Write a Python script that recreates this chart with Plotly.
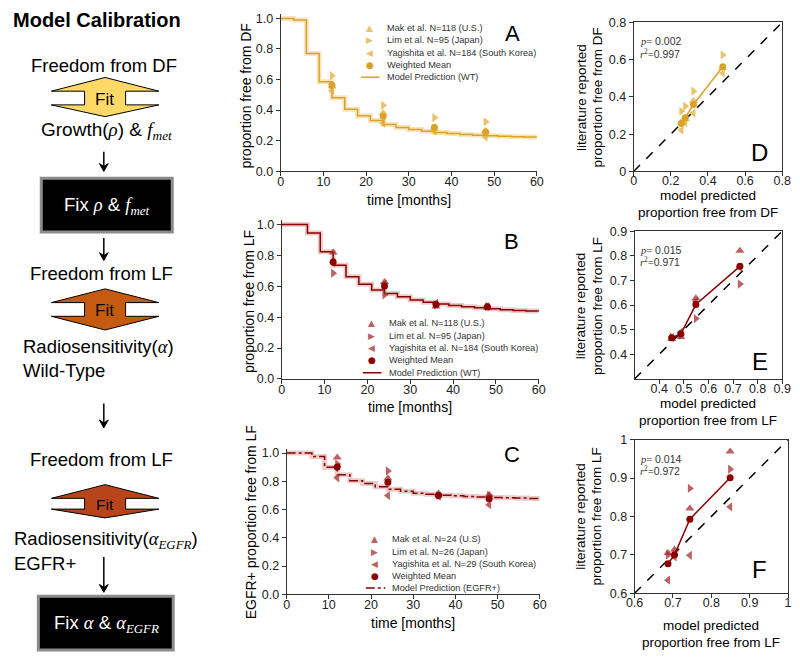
import plotly.graph_objects as go

W, H = 800, 660

# ---------------- data ----------------
t_model = [0, 3, 6, 9, 12, 15, 18, 21, 24, 27, 30, 33, 36, 39, 42, 45, 48, 51, 54, 57, 60]
model_DF_WT = [1.0, 0.99, 0.77, 0.585, 0.48, 0.405, 0.362, 0.331, 0.306, 0.286, 0.272,
               0.262, 0.253, 0.246, 0.240, 0.235, 0.231, 0.228, 0.225, 0.223, 0.222]
model_LF_WT = [1.0, 1.0, 0.945, 0.824, 0.736, 0.662, 0.613, 0.577, 0.554, 0.533, 0.512,
               0.497, 0.485, 0.476, 0.468, 0.461, 0.455, 0.449, 0.444, 0.440, 0.437]
model_LF_EGFR = [1.0, 1.0, 0.975, 0.90, 0.847, 0.804, 0.785, 0.762, 0.744, 0.730, 0.716,
                 0.709, 0.702, 0.697, 0.692, 0.688, 0.685, 0.683, 0.681, 0.679, 0.678]

t_obs = [12, 24, 36, 48]

# Panel A / D : freedom from distant failure (wild type)
DF_mak = [0.555, 0.38, 0.28, 0.265]
DF_lim = [0.625, 0.431, 0.350, 0.323]
DF_yag = [0.527, 0.313, 0.262, 0.222]
DF_mean = [0.562, 0.359, 0.288, 0.257]
DF_pred = [0.48, 0.322, 0.278, 0.257]

# Panel B / E : freedom from local failure (wild type)
LF_mak = [0.82, 0.628, 0.47, 0.462]
LF_lim = [0.685, 0.545, 0.478, 0.47]
LF_yag = [0.753, 0.615, 0.49, 0.468]
LF_mean = [0.757, 0.602, 0.483, 0.467]
LF_pred = [0.728, 0.549, 0.488, 0.451]

# Panel C / F : freedom from local failure (EGFR+)
EG_mak = [0.969, 0.821, 0.714, 0.705]
EG_lim = [0.923, 0.873, 0.700, 0.700]
EG_yag = [0.825, 0.699, 0.695, 0.634]
EG_mean = [0.901, 0.793, 0.700, 0.677]
EG_pred = [0.849, 0.744, 0.704, 0.687]

legend_A = ["Mak et al. N=118 (U.S.)", "Lim et al. N=95 (Japan)",
            "Yagishita et al. N=184 (South Korea)", "Weighted Mean", "Model Prediction (WT)"]
legend_B = legend_A
legend_C = ["Mak et al. N=24 (U.S)", "Lim et al. N=26 (Japan)",
            "Yagishita et al. N=29 (South Korea)", "Weighted Mean", "Model Prediction (EGFR+)"]

stats = [("0.002", "0.997"), ("0.015", "0.971"), ("0.014", "0.972")]

# ---------------- style ----------------
FONT = "Liberation Sans, Arial, sans-serif"
SERIF = "Liberation Serif, DejaVu Serif, serif"
GOLD = "#DBA22A"
GOLD_STUDY = "rgba(226,170,50,0.72)"
GOLD_BAND = "rgba(226,170,50,0.30)"
RED = "#8B0000"
RED_STUDY = "rgba(165,45,45,0.75)"
RED_BAND = "rgba(170,40,40,0.24)"


def px(x):
    return x / W


def py(y):
    return 1 - y / H


fig = go.Figure()


def axis(dom, rng, tickvals, ticktext, mirror=False, anchor=None, standoff=0):
    d = dict(domain=dom, range=rng, showgrid=False, zeroline=False, showline=True,
             linecolor="#333", linewidth=1, ticks="outside", ticklen=4, tickcolor="#333",
             tickvals=tickvals, ticktext=ticktext, tickfont=dict(size=12.5, color="#222", family=FONT),
             mirror=mirror, fixedrange=True, ticklabelstandoff=standoff)
    if anchor:
        d["anchor"] = anchor
    return d


tv_y = [0, 0.2, 0.4, 0.6, 0.8, 1.0]
tt_y = ["0.0", "0.2", "0.4", "0.6", "0.8", "1.0"]
tv_x = [0, 10, 20, 30, 40, 50, 60]
tt_x = [str(v) for v in tv_x]

layout_axes = {}
# time panels
time_panels = [
    ("x", "y", [278, 540], [7.0, 167.7], model_DF_WT, DF_mak, DF_lim, DF_yag, DF_mean, GOLD, GOLD_STUDY, GOLD_BAND, "solid"),
    ("x2", "y2", [279, 542], [217.6, 380], model_LF_WT, LF_mak, LF_lim, LF_yag, LF_mean, RED, RED_STUDY, RED_BAND, "solid"),
    ("x3", "y3", [284, 543], [451.4, 600], model_LF_EGFR, EG_mak, EG_lim, EG_yag, EG_mean, RED, RED_STUDY, RED_BAND, "dashdot"),
]
for i, (xa, ya, xr, yr, model, mak, lim, yag, mean, c, cs, cb, dash) in enumerate(time_panels):
    n = "" if i == 0 else str(i + 1)
    layout_axes["xaxis" + n] = axis([px(xr[0]), px(xr[1])], [0, 60], tv_x, tt_x, anchor=ya, standoff=-5)
    layout_axes["yaxis" + n] = axis([py(yr[1]), py(yr[0])], [0, 1.03], tv_y, tt_y, anchor=xa)
    fig.add_trace(go.Scatter(x=t_model, y=model, xaxis=xa, yaxis=ya, mode="lines", line_shape="hv",
                             line=dict(color=cb, width=5), hoverinfo="skip", showlegend=False))
    fig.add_trace(go.Scatter(x=t_model, y=model, xaxis=xa, yaxis=ya, mode="lines", line_shape="hv",
                             line=dict(color=c, width=1.5, dash=dash), showlegend=False))
    for vals, sym in [(mak, "triangle-up"), (lim, "triangle-right"), (yag, "triangle-left")]:
        fig.add_trace(go.Scatter(x=t_obs, y=vals, xaxis=xa, yaxis=ya, mode="markers", cliponaxis=False,
                                 marker=dict(symbol=sym, size=8, color=cs, line=dict(width=0)),
                                 showlegend=False))
    fig.add_trace(go.Scatter(x=t_obs, y=mean, xaxis=xa, yaxis=ya, mode="markers", cliponaxis=False,
                             marker=dict(symbol="circle", size=7, color=c), showlegend=False))

# comparison panels
comp_panels = [
    ("x4", "y4", [639, 791], [15.7, 168], [0, 0.8], [0, 0.2, 0.4, 0.6, 0.8], ["0", "0.2", "0.4", "0.6", "0.8"],
     DF_pred, DF_mak, DF_lim, DF_yag, DF_mean, GOLD, GOLD_STUDY),
    ("x5", "y5", [640, 791], [229, 380], [0.3, 0.9], [0.4, 0.5, 0.6, 0.7, 0.8, 0.9], ["0.4", "0.5", "0.6", "0.7", "0.8", "0.9"],
     LF_pred, LF_mak, LF_lim, LF_yag, LF_mean, RED, RED_STUDY),
    ("x6", "y6", [640, 797], [442, 599], [0.6, 1.0], [0.6, 0.7, 0.8, 0.9, 1.0], ["0.6", "0.7", "0.8", "0.9", "1"],
     EG_pred, EG_mak, EG_lim, EG_yag, EG_mean, RED, RED_STUDY),
]
shapes = []
for j, (xa, ya, xr, yr, rng, tv, tt, pred, mak, lim, yag, mean, c, cs) in enumerate(comp_panels):
    n = str(j + 4)
    layout_axes["xaxis" + n] = axis([px(xr[0]), px(xr[1])], rng, tv, tt, mirror=True, anchor=ya, standoff=-6)
    layout_axes["yaxis" + n] = axis([py(yr[1]), py(yr[0])], rng, tv, tt, mirror=True, anchor=xa)
    shapes.append(dict(type="line", xref=xa, yref=ya, x0=rng[0], y0=rng[0], x1=rng[1], y1=rng[1],
                       line=dict(color="black", width=1.5, dash="dash"), layer="below"))
    for vals, sym in [(mak, "triangle-up"), (lim, "triangle-right"), (yag, "triangle-left")]:
        fig.add_trace(go.Scatter(x=pred, y=vals, xaxis=xa, yaxis=ya, mode="markers", cliponaxis=False,
                                 marker=dict(symbol=sym, size=8, color=cs, line=dict(width=0)),
                                 showlegend=False))
    fig.add_trace(go.Scatter(x=pred, y=mean, xaxis=xa, yaxis=ya, mode="lines+markers", cliponaxis=False,
                             line=dict(color=c, width=1.5),
                             marker=dict(symbol="circle", size=7, color=c), showlegend=False))

annotations = []


def txt(x, y, text, size, color="black", xanchor="center", angle=0, family=FONT, yanchor="middle"):
    annotations.append(dict(x=px(x), y=py(y), xref="paper", yref="paper", text=text, showarrow=False,
                            font=dict(size=size, color=color, family=family), xanchor=xanchor,
                            yanchor=yanchor, textangle=angle))


# axis titles
txt(409, 197, "time [months]", 14)
txt(243, 91, "proportion free from DF", 14, angle=-90)
txt(410, 409, "time [months]", 14)
txt(245, 301, "proportion free from LF", 14, angle=-90)
txt(413, 629, "time [months]", 14)
txt(247, 526, "EGFR+ proportion free from LF", 14, angle=-90)

for (yc, xc, lab, xt_y) in [(92, 715, "DF", 193), (305, 715, "LF", 405), (520, 718, "LF", 632)]:
    txt(585, yc, "literature reported", 13.5, angle=-90)
    txt(602, yc, "proportion free from " + lab, 13.5, angle=-90)
    txt(xc, xt_y, "model predicted", 13.5)
    txt(xc, xt_y + 17, "proportion free from " + lab, 13.5)

# panel letters
for (x, y, l) in [(515, 27, "A"), (514, 240, "B"), (515, 457, "C")]:
    txt(x, y, l, 22)
for (x, y, l) in [(768, 149, "D"), (768, 362, "E"), (768, 575, "F")]:
    txt(x, y, l, 24)

# statistics
for (y0, (p, r2)) in zip([35, 248, 462], stats):
    txt(643, y0, '<span style="font-family:%s"><i>p</i>=</span> %s' % (SERIF, p), 10.5, color="#333", xanchor="left")
    txt(643, y0 + 12, '<span style="font-family:%s"><i>r</i><sup>2</sup>=</span>%s' % (SERIF, r2), 10.5, color="#333", xanchor="left")

# manual legends
leg_specs = [
    (369, 385, [21.7, 34, 46.7, 59.3, 71.7], [360, 379], legend_A, GOLD, GOLD_STUDY, "solid"),
    (371, 387, [323.3, 336, 348.3, 361, 373.7], [362, 381], legend_B, RED, RED_STUDY, "solid"),
    (374, 390, [544, 556.7, 569, 581, 593.7], [365, 385], legend_C, RED, RED_STUDY, "dashdot"),
]
glyphs = ["▲", "▶", "◀", "●"]
for (gx, tx, ys, lx, labels, c, cs, dash) in leg_specs:
    for k in range(4):
        txt(gx, ys[k], glyphs[k], 9, color=(cs if k < 3 else c), family="DejaVu Sans")
    for k in range(5):
        txt(tx, ys[k], labels[k], 9.2, color="#333", xanchor="left")
    shapes.append(dict(type="line", xref="paper", yref="paper", x0=px(lx[0]), x1=px(lx[1]),
                       y0=py(ys[4]), y1=py(ys[4]), line=dict(color=c, width=1.5, dash=dash)))


# ---------------- left-hand flow diagram ----------------
def path(pts):
    return "M " + " L ".join("%.5f,%.5f" % (px(a), py(b)) for a, b in pts) + " Z"


def fit_path(top, ntop, nbot, bot, xl=43.3, xr=153.3, xc=98.3, nl=77.3, nr=119.3):
    return path([(xl, ntop), (xc, top), (xr, ntop), (nr, ntop), (nr, nbot), (xr, nbot), (xc, bot),
                 (xl, nbot), (nl, nbot), (nl, ntop)])


for (geom, col) in [((72, 86, 100, 112), "#FFD966"), ((288, 302, 316, 330), "#C55A11"),
                    ((488, 502, 513, 522), "#B8451A")]:
    shapes.append(dict(type="path", xref="paper", yref="paper", path=fit_path(*geom),
                       fillcolor=col, line=dict(color="black", width=1)))

shapes.append(dict(type="rect", xref="paper", yref="paper", x0=px(33), x1=px(167), y0=py(230), y1=py(175),
                   fillcolor="black", line=dict(color="#8c8c8c", width=3)))
shapes.append(dict(type="rect", xref="paper", yref="paper", x0=px(30), x1=px(168), y0=py(657), y1=py(602),
                   fillcolor="black", line=dict(color="#8c8c8c", width=3)))

# down arrows
for (x, y0, y1) in [(97, 148, 168), (97, 236, 259), (97, 405, 430), (97, 562, 598)]:
    shapes.append(dict(type="line", xref="paper", yref="paper", x0=px(x), x1=px(x), y0=py(y0), y1=py(y1 - 3),
                       line=dict(color="black", width=1.5)))
    shapes.append(dict(type="path", xref="paper", yref="paper",
                       path=path([(x - 4.5, y1 - 8), (x, y1), (x + 4.5, y1 - 8), (x, y1 - 5)]),
                       fillcolor="black", line=dict(color="black", width=1)))

S = '<span style="font-family:%s"><i>%%s</i></span>' % SERIF
SUB = '<span style="font-family:%s"><sub><i>%%s</i></sub></span>' % SERIF
txt(2, 13, "<b>Model Calibration</b>", 20, xanchor="left")
txt(97, 60, "Freedom from DF", 18.5)
txt(98, 94, "Fit", 17)
txt(100, 127, "Growth(" + S % "ρ" + ") & " + S % "f" + SUB % "met", 19)
txt(100, 203, "Fix " + S % "ρ" + " & " + S % "f" + SUB % "met", 18.5, color="white")
txt(95, 272, "Freedom from LF", 18.5)
txt(98, 310, "Fit", 17)
txt(12, 347, "Radiosensitivity(" + S % "α" + ")", 18.5, xanchor="left")
txt(12, 371, "Wild-Type", 18.5, xanchor="left")
txt(95, 462, "Freedom from LF", 18.5)
txt(98, 508, "Fit", 15.5)
txt(3, 545, "Radiosensitivity(" + S % "α" + SUB % "EGFR" + ")", 18.5, xanchor="left")
txt(3, 569, "EGFR+", 18.5, xanchor="left")
txt(100, 630, "Fix " + S % "α" + " & " + S % "α" + SUB % "EGFR", 18.5, color="white")

fig.update_layout(width=W, height=H, margin=dict(l=0, r=0, t=0, b=0),
                  plot_bgcolor="white", paper_bgcolor="white",
                  font=dict(family=FONT, color="#222"),
                  showlegend=False, shapes=shapes, annotations=annotations, **layout_axes)

fig.write_html("out.html", config={"displayModeBar": False},
               post_script="document.body.style.margin='0';")
